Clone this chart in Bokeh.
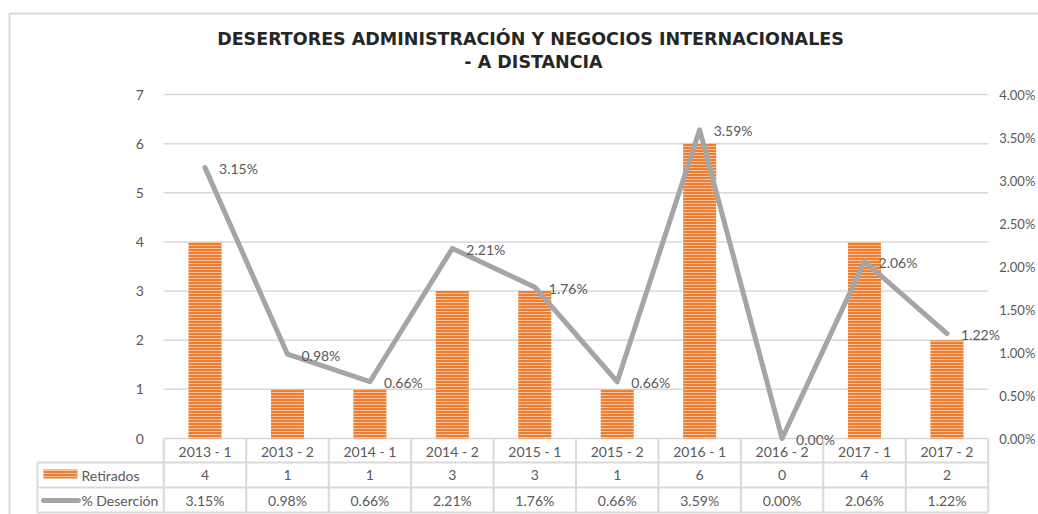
from bokeh.plotting import figure
from bokeh.models import Range1d, LinearAxis, FixedTicker, NumeralTickFormatter
from bokeh.core.properties import value
from bokeh.embed import file_html
from bokeh.resources import INLINE

# ---------------- data ----------------
categories = ["2013 - 1", "2013 - 2", "2014 - 1", "2014 - 2", "2015 - 1",
              "2015 - 2", "2016 - 1", "2016 - 2", "2017 - 1", "2017 - 2"]
retirados = [4, 1, 1, 3, 3, 1, 6, 0, 4, 2]
desercion = [0.0315, 0.0098, 0.0066, 0.0221, 0.0176, 0.0066, 0.0359, 0.0000, 0.0206, 0.0122]
series_names = ["Retirados", "% Deserción"]
left_ticks = [0, 1, 2, 3, 4, 5, 6, 7]
right_ticks = [0.0, 0.005, 0.01, 0.015, 0.02, 0.025, 0.03, 0.035, 0.04]
title_lines = ["DESERTORES ADMINISTRACIÓN Y NEGOCIOS INTERNACIONALES", "- A DISTANCIA"]

# ---------------- layout ----------------
W, H = 1038, 514
PX_CAT, X0 = 82.44, 163.3      # px per category, canvas x of category boundary 0
PX_UNIT, Y0 = 49.14, 438.0     # px per left-axis unit, canvas y of value 0
LEFT_MAX, PCT_MAX = 7, 0.04
k = PCT_MAX / LEFT_MAX

def cx(px):
    return (px - X0) / PX_CAT

def cy(px):
    return (Y0 - px) / PX_UNIT

x_start, x_end = cx(0), cx(W)
y_start, y_end = cy(H), cy(0)

FONT = value("Lato")
TXT = "#595959"
GRID = "#d9d9d9"

p = figure(width=W, height=H, x_range=Range1d(x_start, x_end),
           y_range=Range1d(y_start, y_end), output_backend="svg",
           toolbar_location=None, x_axis_location=None, y_axis_location=None,
           min_border=0, outline_line_color=None,
           background_fill_color="white", border_fill_color="white")
p.extra_y_ranges = {"pct": Range1d(y_start * k, y_end * k)}
p.xgrid.visible = False
p.ygrid.visible = False

n = len(categories)
centers = [i + 0.5 for i in range(n)]

# gridlines
p.segment(x0=[0] * len(left_ticks), x1=[n] * len(left_ticks), y0=left_ticks, y1=left_ticks,
          line_color=GRID, line_width=1.5)

# axes
lax = LinearAxis(fixed_location=0, ticker=FixedTicker(ticks=left_ticks),
                 axis_line_color=None, major_tick_line_color=None, minor_tick_line_color=None,
                 major_label_text_font="Lato", major_label_text_font_size="14px",
                 major_label_text_color=TXT, major_label_standoff=14)
p.add_layout(lax, "left")
rax = LinearAxis(y_range_name="pct", fixed_location=n, ticker=FixedTicker(ticks=right_ticks),
                 formatter=NumeralTickFormatter(format="0.00%"),
                 axis_line_color=None, major_tick_line_color=None, minor_tick_line_color=None,
                 major_label_text_font="Lato", major_label_text_font_size="13px",
                 major_label_text_color=TXT, major_label_standoff=5)
p.add_layout(rax, "right")

# bars
p.vbar(x=centers, top=retirados, bottom=0, width=0.4, fill_color="#ED7D31", line_color=None,
       hatch_pattern="horizontal_line", hatch_color="white", hatch_alpha=0.55,
       hatch_scale=3, hatch_weight=1)

# line
p.line(x=centers, y=desercion, y_range_name="pct", line_color="#A5A5A5", line_width=5,
       line_cap="round", line_join="round")
pct_labels = [f"{v * 100:.2f}%" for v in desercion]
p.text(x=centers, y=desercion, text=pct_labels, y_range_name="pct", x_offset=14, y_offset=1,
       text_align="left", text_baseline="middle", text_font=FONT,
       text_font_size="14px", text_color=TXT)

# ---------------- data table ----------------
tab_left = cx(37)
row_lines = [cy(462), cy(487), cy(512)]
p.segment(x0=[tab_left] * 3, x1=[n] * 3, y0=row_lines, y1=row_lines,
          line_color=GRID, line_width=2)
vx = list(range(n + 1))
p.segment(x0=vx, x1=vx, y0=[0] * len(vx), y1=[row_lines[-1]] * len(vx),
          line_color=GRID, line_width=2)
p.segment(x0=[tab_left], x1=[tab_left], y0=[row_lines[0]], y1=[row_lines[-1]],
          line_color=GRID, line_width=2)

y_head, y_r1, y_r2 = cy(451), cy(474.5), cy(499.5)
p.text(x=centers, y=[y_head] * n, text=categories, text_align="center", text_baseline="middle",
       text_font=FONT, text_font_size="14px", text_color=TXT)
p.text(x=centers, y=[y_r1] * n, text=[str(v) for v in retirados], text_align="center",
       text_baseline="middle", text_font=FONT, text_font_size="14px", text_color=TXT)
p.text(x=centers, y=[y_r2] * n, text=pct_labels, text_align="center", text_baseline="middle",
       text_font=FONT, text_font_size="14px", text_color=TXT)
p.text(x=[cx(81)] * 2, y=[y_r1, y_r2], text=series_names, text_align="left",
       text_baseline="middle", text_font=FONT, text_font_size="14px", text_color=TXT)

# legend keys in table
p.quad(left=[cx(43)], right=[cx(77)], top=[cy(469)], bottom=[cy(478)], fill_color="#ED7D31",
       line_color=None, hatch_pattern="horizontal_line", hatch_color="white",
       hatch_alpha=0.55, hatch_scale=3, hatch_weight=1)
p.line(x=[cx(43), cx(78)], y=[cy(500), cy(500)], line_color="#A5A5A5", line_width=5,
       line_cap="round")

# chart border
p.segment(x0=[cx(9), cx(9)], y0=[cy(13), cy(13)], x1=[cx(9), x_end], y1=[y_start, cy(13)],
          line_color=GRID, line_width=2)

# title
p.text(x=[cx(530), cx(533)], y=[cy(38.5), cy(61)], text=title_lines, text_align="center",
       text_baseline="middle", text_font=value("DejaVu Sans"), text_font_style="bold",
       text_font_size="17.5px", text_color="#262626")

open("out.html", "w").write(file_html(p, INLINE))
